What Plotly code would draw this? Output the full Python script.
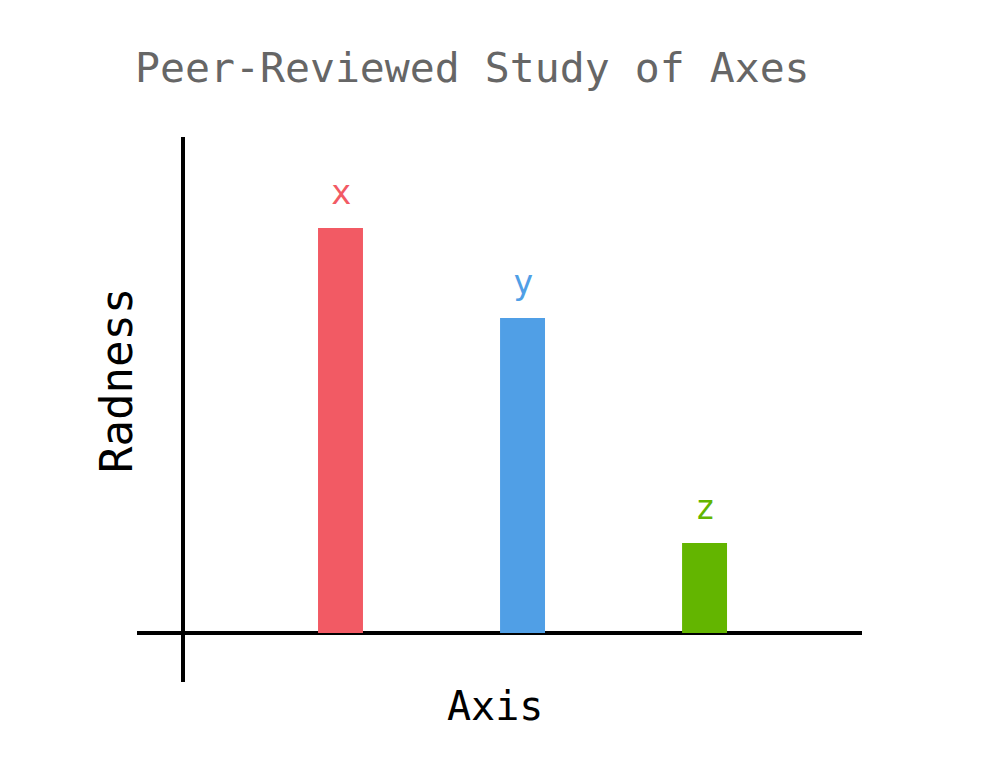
import plotly.graph_objects as go

categories = ["x", "y", "z"]
values = [9, 7, 2]
colors = ["#f25a64", "#509fe6", "#63b500"]
title_text = "Peer-Reviewed Study of Axes"
x_title = "Axis"
y_title = "Radness"

FONT = "DejaVu Sans Mono"
OFF = 8  # page body margin

fig = go.Figure()
fig.add_trace(go.Bar(
    x=categories, y=values, marker=dict(color=colors, line=dict(width=0)),
    width=0.247, hoverinfo="skip",
))

annotations = []
for c, v, col in zip(categories, values, colors):
    annotations.append(dict(
        x=c, y=v, xref="x", yref="y", text=c, showarrow=False,
        yanchor="middle", yshift=36, font=dict(family=FONT, size=34, color=col),
    ))
annotations.append(dict(
    x=(116 - 137) / 725, y=(682 - 381) / 545, xref="paper", yref="paper",
    text=y_title, textangle=-90, showarrow=False, xanchor="center", yanchor="middle",
    font=dict(family=FONT, size=44, color="#000000"),
))
annotations.append(dict(
    x=(495 - 137) / 725, y=(682 - 706) / 545, xref="paper", yref="paper",
    text=x_title, showarrow=False, xanchor="center", yanchor="middle",
    font=dict(family=FONT, size=40, color="#000000"),
))

fig.update_layout(
    width=1000, height=773,
    margin=dict(l=137 - OFF, r=1000 - (137 - OFF) - 725, t=137 - OFF,
                b=773 - (137 - OFF) - 545),
    paper_bgcolor="white", plot_bgcolor="white",
    showlegend=False,
    title=dict(text=title_text, x=(135 - OFF) / 1000, xanchor="left",
               y=1 - (67 - OFF) / 773, yanchor="middle", xref="container",
               font=dict(family=FONT, size=41.5, color="#666666")),
    xaxis=dict(range=[-1.118, 2.865], showgrid=False, showticklabels=False,
               ticks="", showline=False, zeroline=False, fixedrange=True),
    yaxis=dict(range=[-1.09, 11.02], showgrid=False, showticklabels=False,
               ticks="", zeroline=True, zerolinecolor="black", zerolinewidth=4,
               showline=True, linecolor="black", linewidth=4,
               anchor="free", position=(183 - 137) / 725, fixedrange=True),
    annotations=annotations,
)

fig.write_html("out.html")
